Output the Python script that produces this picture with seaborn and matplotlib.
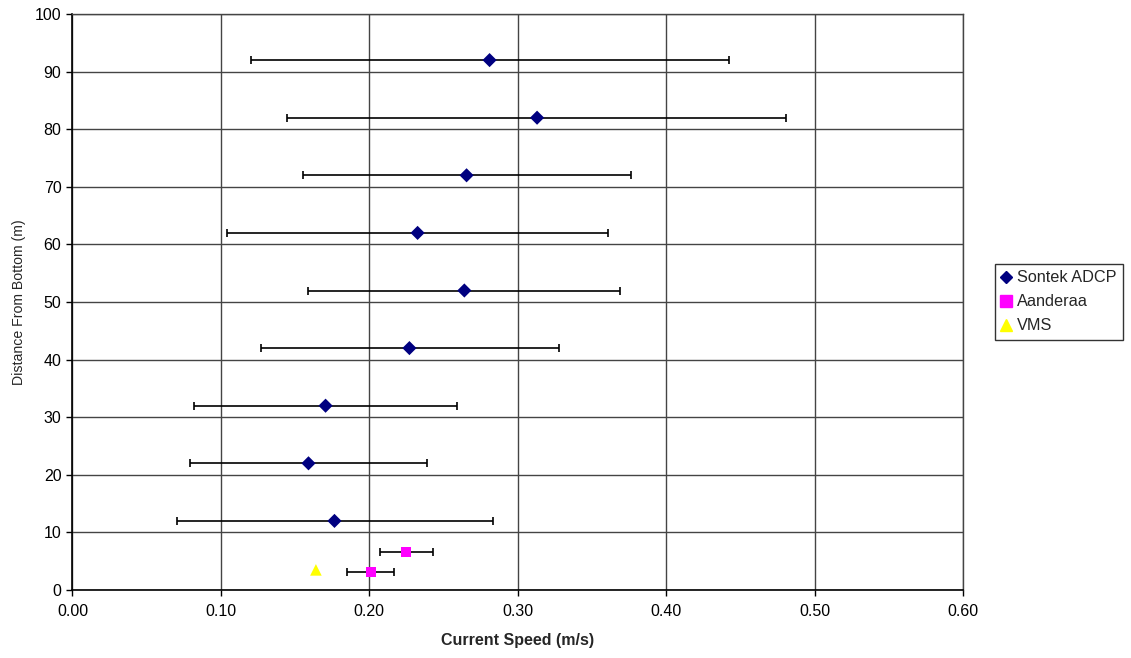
import matplotlib
matplotlib.use("Agg")
import matplotlib.pyplot as plt
import seaborn as sns
import pandas as pd
from matplotlib.lines import Line2D

sns.set_theme(style="white")
plt.rcParams['font.family'] = ['Liberation Sans', 'DejaVu Sans']

# Sontek ADCP
adcp_depth = [92, 82, 72, 62, 52, 42, 32, 22, 12]
adcp_speed = [0.281, 0.313, 0.2655, 0.2325, 0.264, 0.227, 0.1705, 0.159, 0.1765]
adcp_low = [0.120, 0.1446, 0.155, 0.104, 0.1586, 0.1267, 0.0817, 0.079, 0.0702]
adcp_high = [0.442, 0.481, 0.376, 0.361, 0.369, 0.328, 0.2593, 0.239, 0.283]

# Aanderaa
aand_depth = [6.6, 3.1]
aand_speed = [0.225, 0.2008]
aand_low = [0.2071, 0.185]
aand_high = [0.2431, 0.2168]

# VMS
vms_depth = [3.5]
vms_speed = [0.164]

series_names = ["Sontek ADCP", "Aanderaa", "VMS"]
series_colors = ["#000080", "#FF00FF", "#FFFF00"]
series_markers = ["D", "s", "^"]
series_sizes = [52, 52, 70]

x_ticks = [0.0, 0.1, 0.2, 0.3, 0.4, 0.5, 0.6]
y_ticks = list(range(0, 101, 10))

df = pd.DataFrame({
    "speed": adcp_speed + aand_speed + vms_speed,
    "depth": adcp_depth + aand_depth + vms_depth,
    "series": [series_names[0]] * len(adcp_speed) + [series_names[1]] * len(aand_speed) + [series_names[2]] * len(vms_speed),
})

fig = plt.figure(figsize=(11.31, 6.58), dpi=100)
ax = fig.add_axes([0.0641, 0.1033, 0.7874, 0.8754])

ax.set_axisbelow(True)
ax.grid(True, color="#444444", linewidth=1.0)

# error bars
for sp, dp, lo, hi in [(adcp_speed, adcp_depth, adcp_low, adcp_high),
                       (aand_speed, aand_depth, aand_low, aand_high)]:
    xerr = [[s - l for s, l in zip(sp, lo)], [h - s for s, h in zip(sp, hi)]]
    ax.errorbar(sp, dp, xerr=xerr, fmt="none", ecolor="black", elinewidth=1.2,
                capsize=3, capthick=1.2, zorder=3)

sns.scatterplot(data=df, x="speed", y="depth", hue="series", style="series", size="series",
                palette=dict(zip(series_names, series_colors)),
                markers=dict(zip(series_names, series_markers)),
                sizes=dict(zip(series_names, series_sizes)),
                edgecolor="none", linewidth=0, ax=ax, zorder=4, legend=False)

ax.set_xlim(0, 0.6)
ax.set_ylim(0, 100)
ax.set_xticks(x_ticks)
ax.set_xticklabels([f"{v:.2f}" for v in x_ticks], fontsize=11.5)
ax.set_yticks(y_ticks)
ax.set_yticklabels([str(v) for v in y_ticks], fontsize=11.5)
ax.tick_params(axis="both", which="both", direction="out", length=4, width=1,
               color="black", bottom=True, left=True, labelcolor="black")
ax.tick_params(axis="x", pad=6)
ax.tick_params(axis="y", pad=4)
for side in ["left", "bottom"]:
    ax.spines[side].set_color("black")
    ax.spines[side].set_linewidth(1.2)
for side in ["top", "right"]:
    ax.spines[side].set_color("#444444")
    ax.spines[side].set_linewidth(1.0)

ax.set_xlabel("Current Speed (m/s)", fontsize=11.5, fontweight="bold", labelpad=10)
ax.set_ylabel("Distance From Bottom (m)", fontsize=10.2, labelpad=6)

handles = [Line2D([], [], linestyle="none", marker=m, markersize=8 if m != "D" else 6.5,
                  markerfacecolor=c, markeredgecolor=c, label=n)
           for n, c, m in zip(series_names, series_colors, series_markers)]
leg = fig.legend(handles=handles, loc="upper left", bbox_to_anchor=(0.8798, 0.5988),
                 frameon=True, fancybox=False, edgecolor="black", fontsize=11.7,
                 handlelength=0.6, handletextpad=0.35, borderpad=0.4, labelspacing=0.55,
                 borderaxespad=0)
leg.get_frame().set_linewidth(1.0)

fig.savefig("out.png", dpi=100)
